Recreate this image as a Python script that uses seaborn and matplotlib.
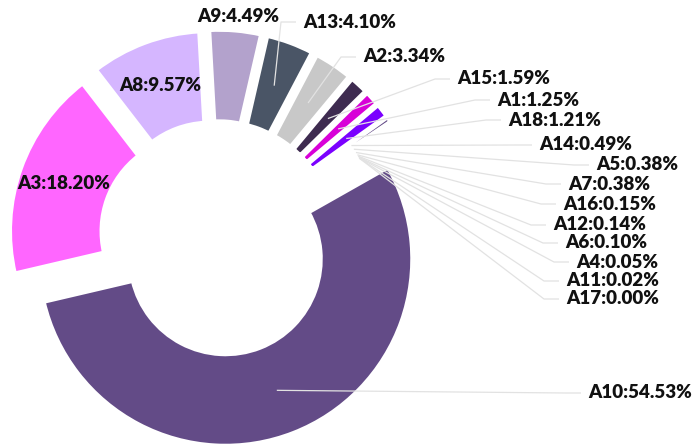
import numpy as np
import matplotlib
matplotlib.use("Agg")
import matplotlib.pyplot as plt
import seaborn as sns

# Share of each item (%), in drawing order (clockwise)
categories = ["A10", "A3", "A8", "A9", "A13", "A2", "A15", "A1", "A18",
              "A14", "A5", "A7", "A16", "A12", "A6", "A4", "A11", "A17"]
shares = [54.53, 18.20, 9.57, 4.49, 4.10, 3.34, 1.59, 1.25, 1.21,
          0.49, 0.38, 0.38, 0.15, 0.14, 0.10, 0.05, 0.02, 0.00]

# Nine-colour palette that repeats for the remaining items
base_colors = ["#634B87", "#FF66FF", "#D5B6FF", "#B3A2CC", "#4A5566",
               "#C8C8C8", "#3E2B50", "#D800D8", "#7B00FF"]

# Label placement: "inside" = centred on the ring, "free" = text only,
# "line" = text with a leader line (anchor = left edge / vertical centre, px)
label_layout = {
    "A10": ("line", 588, 393),
    "A3": ("inside",),
    "A8": ("inside",),
    "A9": ("free", 197, 17),
    "A13": ("line", 303, 22),
    "A2": ("line", 363, 57),
    "A15": ("line", 457, 79),
    "A1": ("line", 497, 100),
    "A18": ("line", 508, 120),
    "A14": ("line", 539, 145),
    "A5": ("line", 596, 165),
    "A7": ("line", 568, 184),
    "A16": ("line", 563, 204),
    "A12": ("line", 553, 225),
    "A6": ("line", 565, 243),
    "A4": ("line", 576, 262),
    "A11": ("line", 566, 281),
    "A17": ("line", 566, 299),
}

W, H = 696, 446
CENTER = (217.5, 238.5)
R_OUT, R_IN = 187.0, 95.0
OFFSET = 22.0
START = -29.5
BORDER_PX = 4.5

sns.set_theme(style="white")
plt.rcParams["font.family"] = ["Lato", "DejaVu Sans"]

palette = sns.color_palette(base_colors)
colors = [palette[i % len(palette)] for i in range(len(shares))]

fig = plt.figure(figsize=(W / 100, H / 100), dpi=100)
ax = fig.add_axes([0, 0, 1, 1])

wedges, _ = ax.pie(shares, colors=colors, radius=R_OUT, center=CENTER,
                   startangle=START, counterclock=True,
                   wedgeprops=dict(width=R_OUT - R_IN,
                                   linewidth=BORDER_PX * 0.72,
                                   edgecolor="white",
                                   joinstyle="miter"))

ax.set_xlim(0, W)
ax.set_ylim(H, 0)
ax.set_aspect("equal")
ax.axis("off")

r_mid = (R_OUT + R_IN) / 2
gap, seg = 7, 15
text_kw = dict(fontsize=13.5, fontweight="heavy", color="#111111",
               va="center", zorder=5)
line_kw = dict(color="#E2E2E2", lw=0.9, zorder=4, solid_capstyle="butt")

for w, name, val in zip(wedges, categories, shares):
    mid = np.deg2rad((w.theta1 + w.theta2) / 2)
    direction = np.array([np.cos(mid), np.sin(mid)])
    cx, cy = np.array(CENTER) + OFFSET * direction
    w.set_center((cx, cy))
    px, py = cx + r_mid * direction[0], cy + r_mid * direction[1]
    text = f"{name}:{val:.2f}%"
    spec = label_layout[name]
    if spec[0] == "inside":
        ax.text(px, py, text, ha="center", **text_kw)
    elif spec[0] == "free":
        ax.text(spec[1], spec[2], text, ha="left", **text_kw)
    else:
        tx, ty = spec[1], spec[2]
        ax.plot([px, tx - gap - seg, tx - gap], [py, ty, ty], **line_kw)
        ax.text(tx, ty, text, ha="left", **text_kw)

fig.savefig("out.png", dpi=100)
